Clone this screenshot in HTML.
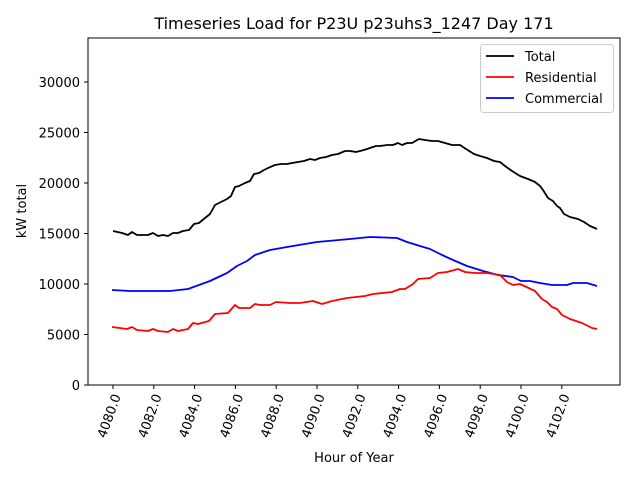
<!DOCTYPE html>
<html><head><meta charset="utf-8"><style>body{margin:0;background:#fff}svg{display:block}</style></head><body>
<svg width="640" height="480" xmlns="http://www.w3.org/2000/svg" font-family="DejaVu Sans, Liberation Sans, sans-serif">
<rect width="640" height="480" fill="#fff"/>
<text x="354" y="29" font-size="16" text-anchor="middle">Timeseries Load for P23U p23uhs3_1247  Day 171</text>
<g fill="none" stroke-width="1.8" stroke-linejoin="round">
<polyline stroke="#000" points="113,231 122,233 128,235 132,232 137,235 148,235 153,233 158,236 163,235 168,236 173,233 178,233 183,231 189,230 194,224 199,223 205,218 210,214 215,205 221,202 227,199 231,196 235,187 239,186 245,183 250,181 254,174 259,173 264,170 268,168 275,165 281,164 287,164 292,163 298,162 304,161 310,159 315,160 320,158 326,157 332,155 338,154 345,151 350,151 356,152 364,150 370,148 376,146 380,146 387,145 393,145 398,143 402,145 407,143 412,143 419,139 425,140 432,141 438,141 445,143 452,145 460,145 466,149 474,154 480,156 487,158 494,161 500,162 505,166 512,171 520,176 528,179 535,182 540,186 543,190 548,198 553,201 557,206 560,208 564,214 570,217 578,219 584,222 590,226 597,229"/>
<polyline stroke="#00f" points="112,290 130,291 170,291 188,289 210,281 227,273 237,266 247,261 255,255 270,250 287,247 317,242 350,239 370,237 397,238 407,242 420,246 430,249 440,254 453,260 467,266 483,271 498,275 513,277 521,281 530,281 540,283 552,285 567,285 573,283 587,283 597,286"/>
<polyline stroke="#f00" points="112,327 127,329 132,327 137,330 148,331 153,329 158,331 168,332 173,329 178,331 188,329 193,323 198,324 209,321 215,314 228,313 235,305 239,308 250,308 255,304 260,305 270,305 276,302 290,303 300,303 313,301 322,304 332,301 347,298 365,296 373,294 392,292 400,289 405,289 413,284 418,279 430,278 438,273 447,272 458,269 465,272 475,273 487,273 500,275 507,282 513,285 520,284 535,291 542,299 547,302 552,307 557,309 562,315 570,319 582,323 592,328 597,329"/>
</g>
<rect x="88" y="38" width="532" height="347" fill="none" stroke="#000" stroke-width="1"/>
<g stroke="#000" stroke-width="1">
<line x1="84" y1="385" x2="88" y2="385"/><line x1="84" y1="334.5" x2="88" y2="334.5"/><line x1="84" y1="284" x2="88" y2="284"/><line x1="84" y1="233.5" x2="88" y2="233.5"/><line x1="84" y1="183" x2="88" y2="183"/><line x1="84" y1="132.5" x2="88" y2="132.5"/><line x1="84" y1="82" x2="88" y2="82"/>
<line x1="113" y1="385" x2="113" y2="389"/><line x1="153.8" y1="385" x2="153.8" y2="389"/><line x1="194.6" y1="385" x2="194.6" y2="389"/><line x1="235.4" y1="385" x2="235.4" y2="389"/><line x1="276.2" y1="385" x2="276.2" y2="389"/><line x1="317" y1="385" x2="317" y2="389"/><line x1="357.8" y1="385" x2="357.8" y2="389"/><line x1="398.6" y1="385" x2="398.6" y2="389"/><line x1="439.4" y1="385" x2="439.4" y2="389"/><line x1="480.2" y1="385" x2="480.2" y2="389"/><line x1="521" y1="385" x2="521" y2="389"/><line x1="561.8" y1="385" x2="561.8" y2="389"/>
</g>
<g font-size="13" text-anchor="end">
<text x="80" y="390">0</text><text x="80" y="339.5">5000</text><text x="80" y="289">10000</text><text x="80" y="238.5">15000</text><text x="80" y="188">20000</text><text x="80" y="137.5">25000</text><text x="80" y="87">30000</text>
</g>
<g font-size="13" text-anchor="end">
<text transform="translate(121,396) rotate(-70)">4080.0</text>
<text transform="translate(161.8,396) rotate(-70)">4082.0</text>
<text transform="translate(202.6,396) rotate(-70)">4084.0</text>
<text transform="translate(243.4,396) rotate(-70)">4086.0</text>
<text transform="translate(284.2,396) rotate(-70)">4088.0</text>
<text transform="translate(325,396) rotate(-70)">4090.0</text>
<text transform="translate(365.8,396) rotate(-70)">4092.0</text>
<text transform="translate(406.6,396) rotate(-70)">4094.0</text>
<text transform="translate(447.4,396) rotate(-70)">4096.0</text>
<text transform="translate(488.2,396) rotate(-70)">4098.0</text>
<text transform="translate(529,396) rotate(-70)">4100.0</text>
<text transform="translate(569.8,396) rotate(-70)">4102.0</text>
</g>
<text x="354" y="462" font-size="13" text-anchor="middle">Hour of Year</text>
<text transform="translate(26,211) rotate(-90)" font-size="13" text-anchor="middle">kW total</text>
<rect x="480.5" y="44.5" width="133" height="68" rx="3" fill="#fff" stroke="#ccc"/>
<g stroke-width="1.8"><line x1="486" y1="56" x2="514" y2="56" stroke="#000"/><line x1="486" y1="77" x2="514" y2="77" stroke="#f00"/><line x1="486" y1="98" x2="514" y2="98" stroke="#00f"/></g>
<g font-size="13"><text x="525" y="61">Total</text><text x="525" y="82">Residential</text><text x="525" y="103">Commercial</text></g>
</svg>
</body></html>
